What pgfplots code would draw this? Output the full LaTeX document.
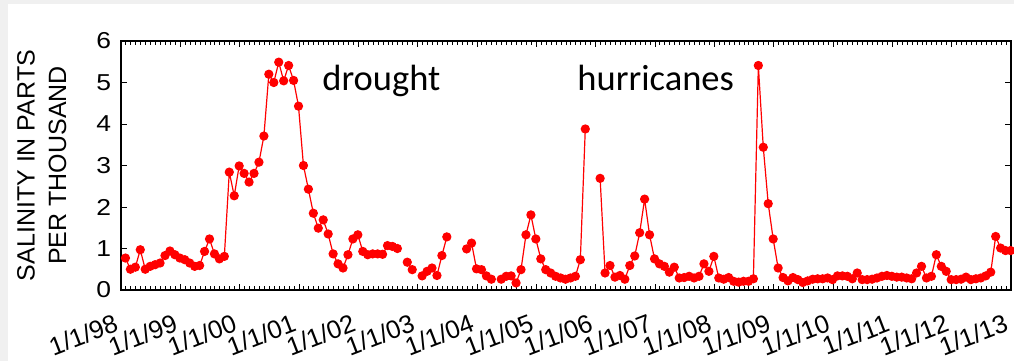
\documentclass[border=0pt]{standalone}
\usepackage{fontspec}
\setmainfont{Liberation Sans}
\newfontfamily\calibri{Carlito}
\usepackage{pgfplots}
\pgfplotsset{compat=1.18}
\usepackage{pgfplotstable}
\newcommand{\xl}[1]{\fontsize{25.5}{30}\selectfont #1}

\pgfplotstableread{
i v
0 0.77
1 0.50
2 0.55
3 0.97
4 0.50
5 0.57
6 0.61
7 0.65
8 0.83
9 0.94
10 0.85
11 0.77
12 0.73
13 0.65
14 0.57
15 0.59
16 0.93
17 1.23
18 0.87
19 0.75
20 0.81
21 2.84
22 2.27
23 2.99
24 2.81
25 2.60
26 2.81
27 3.08
28 3.71
29 5.20
30 5.00
31 5.49
32 5.04
33 5.41
34 5.05
35 4.43
36 3.00
37 2.43
38 1.85
39 1.49
40 1.69
41 1.35
42 0.87
43 0.63
44 0.53
45 0.85
46 1.23
47 1.33
48 0.93
49 0.85
50 0.87
51 0.87
52 0.86
53 1.07
54 1.05
55 1.00
56 nan
57 0.67
58 0.49
59 nan
60 0.34
61 0.45
62 0.53
63 0.35
64 0.83
65 1.28
66 nan
67 nan
68 nan
69 0.99
70 1.13
71 0.51
72 0.49
73 0.34
74 0.26
75 nan
76 0.26
77 0.33
78 0.34
79 0.17
80 0.49
81 1.33
82 1.81
83 1.23
84 0.75
85 0.49
86 0.41
87 0.33
88 0.29
89 0.26
90 0.29
91 0.33
92 0.73
93 3.88
94 nan
95 nan
96 2.69
97 0.41
98 0.59
99 0.31
100 0.35
101 0.26
102 0.59
103 0.82
104 1.38
105 2.19
106 1.33
107 0.75
108 0.63
109 0.57
110 0.43
111 0.55
112 0.29
113 0.30
114 0.33
115 0.29
116 0.33
117 0.63
118 0.45
119 0.81
120 0.29
121 0.26
122 0.30
123 0.21
124 0.19
125 0.21
126 0.21
127 0.27
128 5.41
129 3.44
130 2.08
131 1.23
132 0.53
133 0.30
134 0.22
135 0.30
136 0.25
137 0.18
138 0.22
139 0.26
140 0.27
141 0.27
142 0.29
143 0.25
144 0.34
145 0.34
146 0.33
147 0.27
148 0.41
149 0.25
150 0.25
151 0.26
152 0.29
153 0.33
154 0.35
155 0.33
156 0.31
157 0.31
158 0.29
159 0.27
160 0.41
161 0.57
162 0.29
163 0.33
164 0.85
165 0.57
166 0.45
167 0.25
168 0.25
169 0.26
170 0.31
171 0.25
172 0.27
173 0.29
174 0.34
175 0.43
176 1.29
177 1.01
178 0.95
179 0.95
}\salinity

\begin{document}
\begin{tikzpicture}
\path[use as bounding box] (0pt,0pt) rectangle (1014pt,361pt);
\fill[gray!12] (0pt,0pt) rectangle (1014pt,361pt);
\fill[white] (8pt,0pt) rectangle (1014pt,357pt);
\begin{axis}[
  at={(121pt,71pt)}, anchor=south west,
  scale only axis, width=890pt, height=249pt,
  xmin=0, xmax=15, ymin=0, ymax=6,
  xtick={0,...,15},
  xticklabels={\xl{1/1/98},\xl{1/1/99},\xl{1/1/00},\xl{1/1/01},\xl{1/1/02},\xl{1/1/03},\xl{1/1/04},\xl{1/1/05},\xl{1/1/06},\xl{1/1/07},\xl{1/1/08},\xl{1/1/09},\xl{1/1/10},\xl{1/1/11},\xl{1/1/12},\xl{1/1/13}},
  minor x tick num=11,
  ytick={0,...,6},
  tick align=inside,
  xtick pos=both, ytick pos=both,
  major tick length=6pt, minor tick length=3.5pt,
  every tick/.style={black, line width=1pt},
  axis line style={black, line width=1.3pt},
  /pgf/number format/assume math mode=true,
  yticklabel style={font=\fontsize{23}{27}\selectfont, xscale=1.15, xshift=-5pt},
  xticklabel style={rotate=21, anchor=north east, inner sep=2pt, yshift=-16.8pt, xshift=-13.6pt},
  ylabel={SALINITY IN PARTS\\PER THOUSAND},
  ylabel style={font=\fontsize{25}{31.5}\selectfont, align=center, at={(axis description cs:-0.089,0.5)}, anchor=center},
  unbounded coords=jump,
  clip=false,
]
\addplot[red, line width=1.2pt, mark=*, mark size=4pt, mark options={fill=red, draw=red}]
  table[x expr={(\thisrow{i}+0.9)/12}, y=v] {\salinity};
\node[anchor=base west, font=\calibri\fontsize{36.5}{40}\selectfont, inner sep=0pt] at (axis cs:3.39,4.81) {drought};
\node[anchor=base west, font=\calibri\fontsize{36.5}{40}\selectfont, inner sep=0pt] at (axis cs:7.69,4.81) {hurricanes};
\end{axis}
\end{tikzpicture}
\end{document}
